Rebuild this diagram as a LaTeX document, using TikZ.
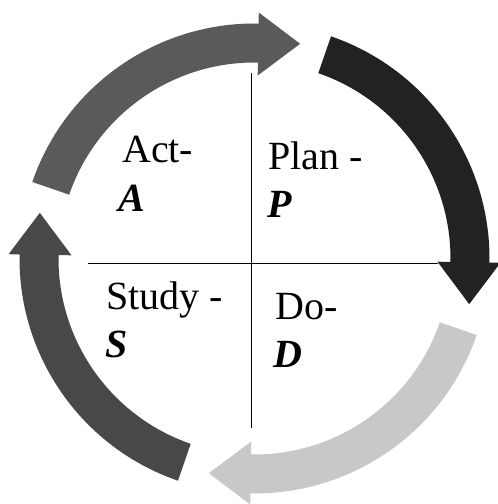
\documentclass[tikz,border=0pt]{standalone}
\usepackage{fontspec}
\setmainfont{Liberation Serif}
\definecolor{cTop}{RGB}{90,90,90}
\definecolor{cRight}{RGB}{34,34,34}
\definecolor{cBottom}{RGB}{200,200,200}
\definecolor{cLeft}{RGB}{72,72,72}
\begin{document}
\begin{tikzpicture}[x=1pt,y=1pt,
  lbl/.style={anchor=base west,inner sep=0pt,font=\fontsize{40}{48}\selectfont},
  crossline/.style={line width=1pt,draw=black},
  ]
\useasboundingbox (0,0) rectangle (498,504);
\coordinate (c) at (254.5,245.5);
% arrow: base angle #1, tail angle #1+72, tip #1-11
\newcommand{\ringarrow}[2]{%
  \pgfmathsetmacro{\tb}{#1}%
  \pgfmathsetmacro{\tt}{#1+72}%
  \pgfmathsetmacro{\tp}{#1-11}%
  \fill[#2] ([shift={(c)}]\tt:235) arc[start angle=\tt,end angle=\tb,radius=235]
    -- ([shift={(c)}]\tb:246) -- ([shift={(c)}]\tp:219.5) -- ([shift={(c)}]\tb:183)
    -- ([shift={(c)}]\tb:196) arc[start angle=\tb,end angle=\tt,radius=196] -- cycle;}
\ringarrow{89}{cTop}
\ringarrow{-1}{cRight}
\ringarrow{-91}{cBottom}
\ringarrow{179}{cLeft}
% cross
\coordinate (vt) at (251,431);
\coordinate (vb) at (251,76);
\coordinate (hl) at (88,240);
\coordinate (hr) at (438,240);
\draw[crossline] (vt) -- (vb);
\draw[crossline] (hl) -- (hr);
% labels
\node[lbl] (act) at (122,341) {Act-};
\node[lbl] (actA) at (118,292) {\textbf{\textit{A}}};
\node[lbl] (plan) at (268,334) {Plan -};
\node[lbl] (planP) at (267,286) {\textbf{\textit{P}}};
\node[lbl] (study) at (106,194) {Study -};
\node[lbl] (studyS) at (105,146) {\textbf{\textit{S}}};
\node[lbl] (do) at (275,184) {Do-};
\node[lbl] (doD) at (273,136) {\textbf{\textit{D}}};
\end{tikzpicture}
\end{document}
